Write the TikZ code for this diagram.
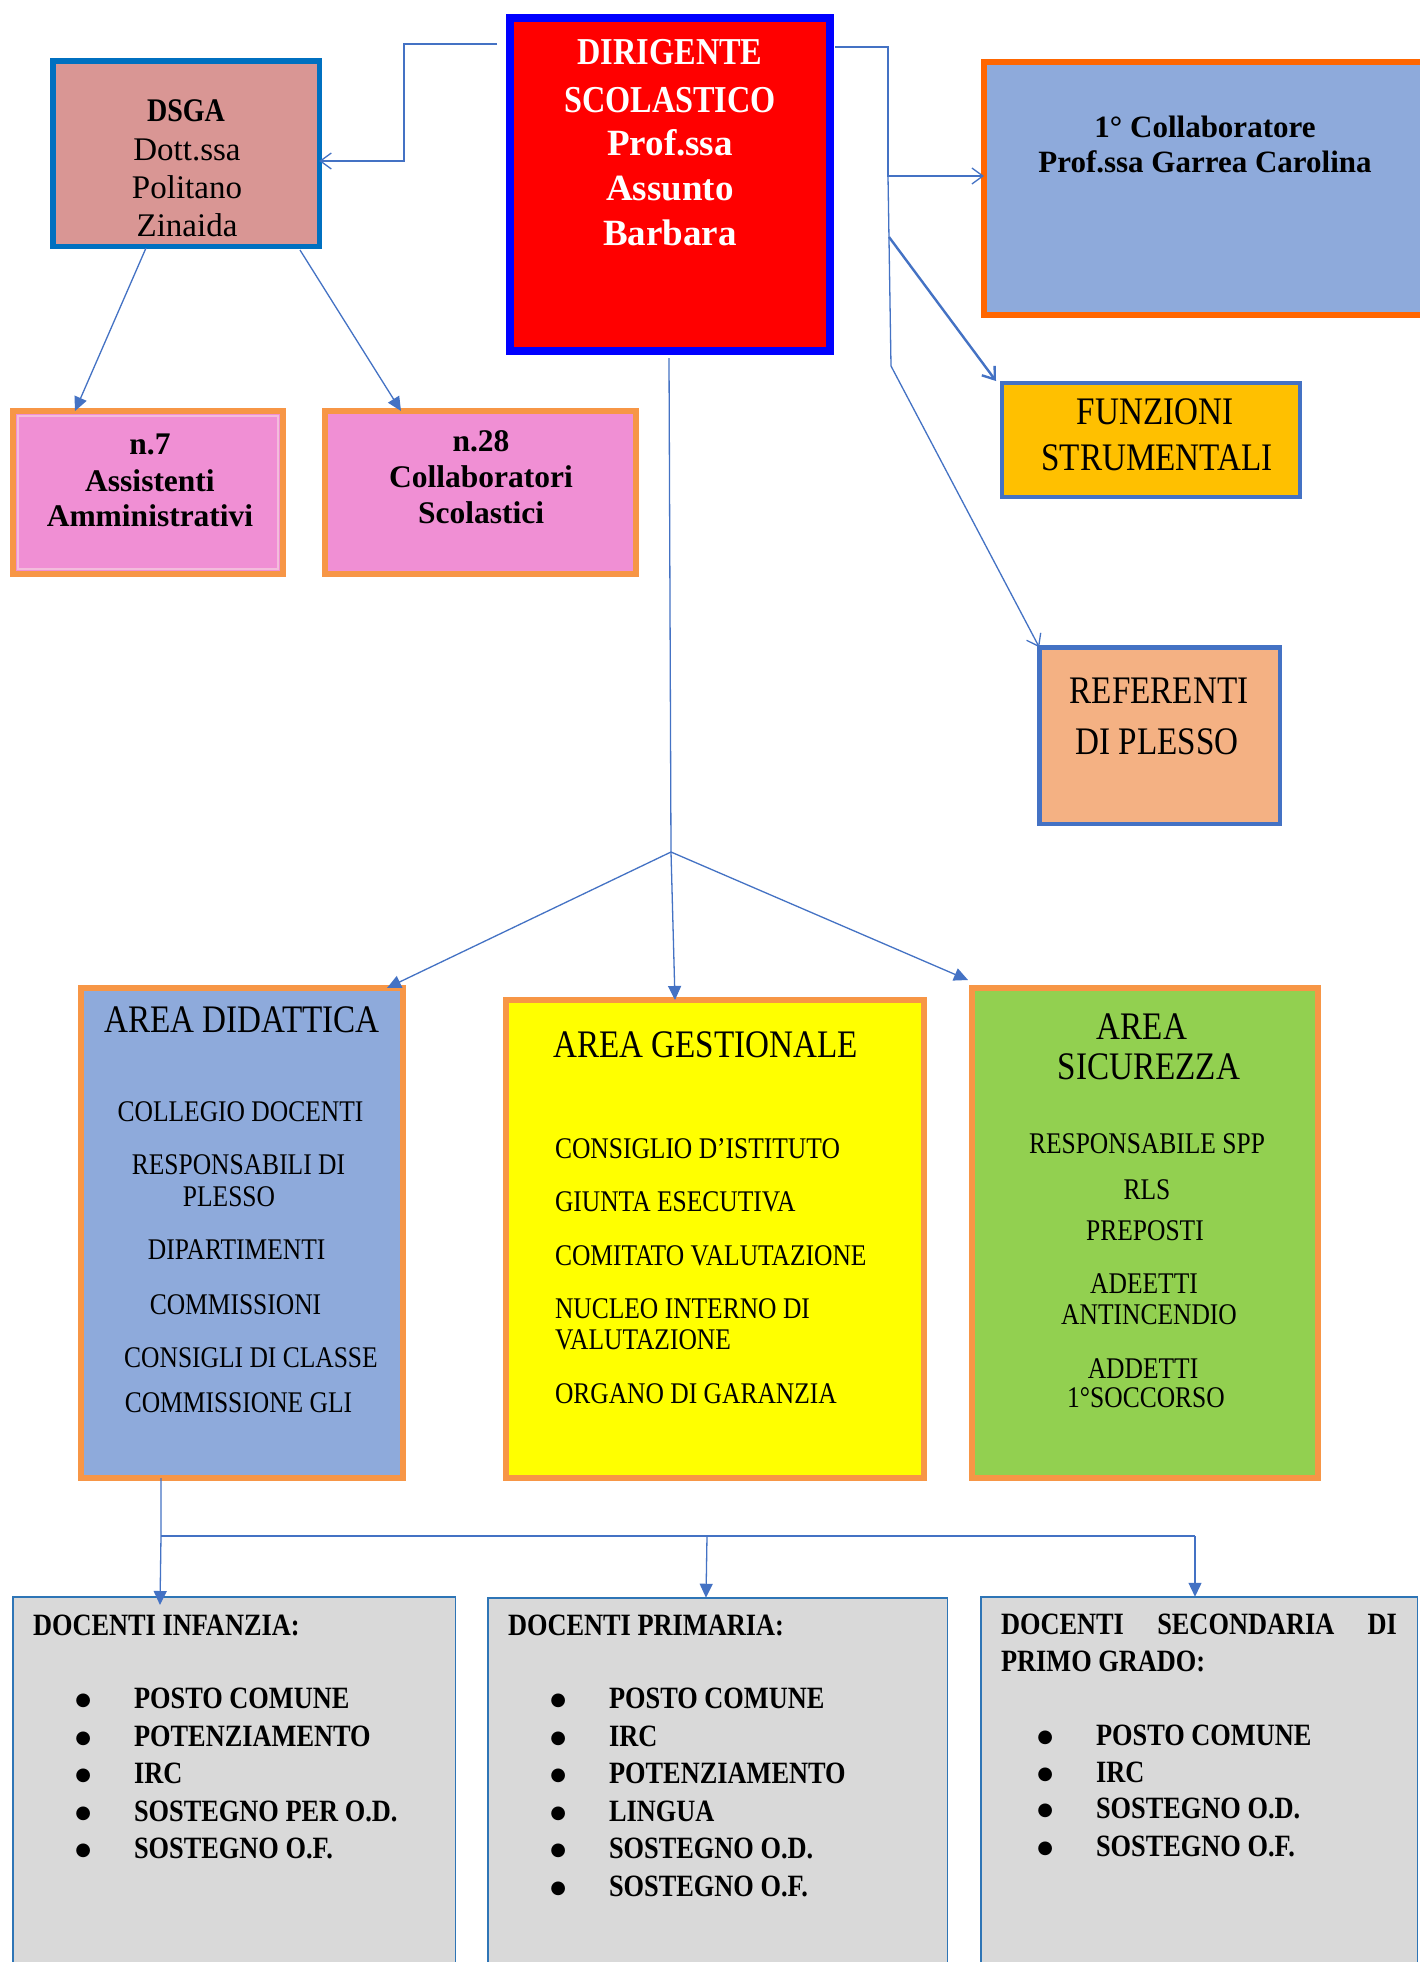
\documentclass[tikz,border=0pt]{standalone}
\usepackage{fontspec}
\setmainfont{Liberation Serif}
\newfontfamily\capsf{Liberation Serif}[FakeStretch=0.85]
\newfontfamily\bulf{DejaVu Sans}
\usetikzlibrary{arrows.meta}
\definecolor{cblue}{HTML}{4472C4}
\definecolor{dirblue}{HTML}{0000FF}
\definecolor{dsgab}{HTML}{0070C0}
\definecolor{dsgaf}{HTML}{D99694}
\definecolor{pinkf}{HTML}{F08FD4}
\definecolor{orb}{HTML}{F79646}
\definecolor{orx}{HTML}{FF6600}
\definecolor{lblue}{HTML}{8EAADB}
\definecolor{gold}{HTML}{FFC000}
\definecolor{peach}{HTML}{F4B183}
\definecolor{yel}{HTML}{FFFF00}
\definecolor{grn}{HTML}{92D050}
\definecolor{gry}{HTML}{D9D9D9}
\definecolor{dblue}{HTML}{2E75B6}
\definecolor{ltpink}{HTML}{F3BCDC}
\newcommand\mybul{\llap{\raisebox{2.5pt}{\bulf\fontsize{18}{20}\selectfont ●}\hspace{43pt}}}
\tikzset{
  box/.style={rectangle, draw, inner sep=0pt, outer sep=0pt},
  conn/.style={draw=cblue, line width=1.3pt},
  tri/.style={-{Triangle[length=14pt,width=13pt]}},
  barb/.style={-{Straight Barb[length=11pt,width=16pt]}},
  txt/.style={anchor=base, inner sep=0pt, outer sep=0pt},
  dirtx/.style={txt, text=white, font=\bfseries\fontsize{37}{44}\selectfont},
  dircap/.style={txt, text=white, font=\capsf\bfseries\fontsize{38}{44}\selectfont},
  dsgatx/.style={txt, font=\fontsize{33}{40}\selectfont},
  pinktx/.style={txt, font=\bfseries\fontsize{31.5}{38}\selectfont},
  captx/.style={txt, font=\capsf\fontsize{39}{46}\selectfont},
  itm/.style={txt, font=\capsf\fontsize{30}{36}\selectfont},
  itml/.style={itm, anchor=base west},
  doc/.style={txt, anchor=base west, font=\capsf\bfseries\fontsize{31}{37}\selectfont},
}
\begin{document}
\begin{tikzpicture}[x=1pt,y=-1pt]
\useasboundingbox (0,0) rectangle (1420,1962);
\clip (0,0) rectangle (1420,1962);
\fill[white] (0,0) rectangle (1420,1962);

% ---------- boxes ----------
\node[box, draw=dirblue, fill=red, line width=8pt, minimum width=320pt, minimum height=333pt] (dir) at (670,184.5) {};
\node[box, draw=dsgab, fill=dsgaf, line width=5.5pt, minimum width=266.5pt, minimum height=185.5pt] (dsga) at (186,153.5) {};
\node[box, draw=orb, fill=pinkf, line width=6pt, minimum width=270pt, minimum height=163pt] (assist) at (148,492.5) {};
\node[box, draw=ltpink, line width=2pt, minimum width=260pt, minimum height=153pt] (assistin) at (148,492.5) {};
\node[box, draw=orb, fill=pinkf, line width=6pt, minimum width=311pt, minimum height=163pt] (collab) at (480.5,492.5) {};
\node[box, draw=orx, fill=lblue, line width=6pt, minimum width=453pt, minimum height=253pt] (coll1) at (1210.5,188.5) {};
\node[box, draw=cblue, fill=gold, line width=4pt, minimum width=298pt, minimum height=114pt] (funz) at (1151,440) {};
\node[box, draw=cblue, fill=peach, line width=4.5pt, minimum width=240.5pt, minimum height=176.5pt] (ref) at (1159.5,735.5) {};
\node[box, draw=orb, fill=lblue, line width=6pt, minimum width=322pt, minimum height=490pt] (did) at (242,1233) {};
\node[box, draw=orb, fill=yel, line width=6pt, minimum width=418pt, minimum height=478pt] (gest) at (715,1239) {};
\node[box, draw=orb, fill=grn, line width=6pt, minimum width=346pt, minimum height=490pt] (sic) at (1145,1233) {};
\node[box, draw=dblue, fill=gry, line width=1.5pt, minimum width=442.5pt, minimum height=412.5pt] (inf) at (234,1803) {};
\node[box, draw=dblue, fill=gry, line width=1.5pt, minimum width=459.5pt, minimum height=411.5pt] (pri) at (717.5,1803.5) {};
\node[box, draw=dblue, fill=gry, line width=1.5pt, minimum width=436.5pt, minimum height=412.5pt] (sec) at (1199,1803) {};

% ---------- connectors ----------
\coordinate (dL) at (497,44);
\coordinate (dk) at (404,161);
\draw[conn, barb] (dL) -| (dk) -- (dk -| dsga.east);

\coordinate (dR) at (835,47);
\coordinate (ck) at (888,176);
\coordinate (vk1) at (889,237);
\coordinate (vk2) at (891,366);
\draw[conn, barb] (dR) -| (ck) -- (ck -| coll1.west);
\draw[conn] (ck) -- (vk2);
\coordinate (fT) at (996,381);
\draw[conn, line width=2.4pt, barb] (vk1) -- (fT);
\draw[conn, barb] (vk2) -- (ref.north west);

\coordinate (aA) at (146,248);
\coordinate (aB) at (300,250);
\draw[conn, tri] (aA) -- (75,0 |- assist.north);
\draw[conn, tri] (aB) -- (401,0 |- collab.north);

\coordinate (dS) at (669,358);
\coordinate (br) at (671,852);
\coordinate (sT) at (968,980);
\draw[conn] (dS) -- (br);
\draw[conn, tri] (br) -- (675,0 |- gest.north);
\draw[conn, tri] (br) -- (387,0 |- did.north);
\draw[conn, tri] (br) -- (sT);

\coordinate (dd) at (161,1536);
\coordinate (dE) at (1195,1536);
\coordinate (dP) at (707,1536);
\coordinate (iT) at (160,1605);
\draw[conn, tri] (dd |- did.south) -- (dd) -- (iT);
\draw[conn] (dd) -- (dE);
\draw[conn, tri] (dE) -- (dE |- sec.north);
\draw[conn, tri] (dP) -- (706,0 |- pri.north);

% ---------- texts ----------
\node[dircap] (t1) at (670,64) {DIRIGENTE};
\node[dircap] (t2) at (670,112) {SCOLASTICO};
\node[dirtx] (t3) at (670,155) {Prof.ssa};
\node[dirtx] (t4) at (670,200) {Assunto};
\node[dirtx] (t5) at (670,245) {Barbara};

\node[txt, font=\capsf\bfseries\fontsize{33}{40}\selectfont] (s1) at (186,121) {DSGA};
\node[dsgatx] (s2) at (187,160) {Dott.ssa};
\node[dsgatx] (s3) at (187,198) {Politano};
\node[dsgatx] (s4) at (187,236) {Zinaida};

\node[pinktx] (a1) at (150,454.5) {n.7};
\node[pinktx] (a2) at (150,491) {Assistenti};
\node[pinktx] (a3) at (150,526) {Amministrativi};
\node[pinktx] (c1) at (481,451) {n.28};
\node[pinktx] (c2) at (481,487) {Collaboratori};
\node[pinktx] (c3) at (481,523) {Scolastici};

\node[txt, font=\bfseries\fontsize{31}{37}\selectfont] (k1) at (1205,137) {1° Collaboratore};
\node[txt, font=\bfseries\fontsize{31}{37}\selectfont] (k2) at (1205,172) {Prof.ssa Garrea Carolina};

\node[captx] (f1) at (1155,424) {FUNZIONI};
\node[captx] (f2) at (1157,470) {STRUMENTALI};
\node[captx] (r1) at (1159,703) {REFERENTI};
\node[captx] (r2) at (1157,754) {DI PLESSO};

\node[captx] (dt) at (242,1032) {AREA DIDATTICA};
\foreach \tx/\cx/\by [count=\i] in {COLLEGIO DOCENTI/240.5/1121, RESPONSABILI DI/238.5/1174, PLESSO/229/1206, DIPARTIMENTI/236.6/1259, COMMISSIONI/235.5/1314, CONSIGLI DI CLASSE/251/1367, COMMISSIONE GLI/238.5/1412}
  \node[itm] (di\i) at (\cx,\by) {\tx};

\node[captx] (gt) at (705.5,1057) {AREA GESTIONALE};
\foreach \tx/\by [count=\i] in {CONSIGLIO D’ISTITUTO/1158, GIUNTA ESECUTIVA/1211, COMITATO VALUTAZIONE/1265, NUCLEO INTERNO DI/1318, VALUTAZIONE/1349, ORGANO DI GARANZIA/1403}
  \node[itml] (ge\i) at (555,\by) {\tx};

\node[captx] (st1) at (1142,1039) {AREA};
\node[captx] (st2) at (1149,1079) {SICUREZZA};
\foreach \tx/\cx/\by [count=\i] in {RESPONSABILE SPP/1147/1153, RLS/1147/1199, PREPOSTI/1145/1240, ADEETTI/1144/1293, ANTINCENDIO/1149/1324, ADDETTI/1143/1378, 1°SOCCORSO/1146/1407}
  \node[itm] (si\i) at (\cx,\by) {\tx};

\node[doc] (it) at (33,1635) {DOCENTI INFANZIA:};
\foreach \tx/\by [count=\i] in {POSTO COMUNE/1708, POTENZIAMENTO/1746, IRC/1783, SOSTEGNO PER O.D./1821, SOSTEGNO O.F./1858}
  \node[doc] (in\i) at (134,\by) {\mybul\tx};

\node[doc] (pt) at (508,1635) {DOCENTI PRIMARIA:};
\foreach \tx/\by [count=\i] in {POSTO COMUNE/1708, IRC/1746, POTENZIAMENTO/1783, LINGUA/1821, SOSTEGNO O.D./1858, SOSTEGNO O.F./1896}
  \node[doc] (pr\i) at (609,\by) {\mybul\tx};

\node[doc] (sc1) at (1001,1634) {\hbox to 396pt{DOCENTI\hfill SECONDARIA\hfill DI}};
\node[doc] (sc2) at (1001,1671) {PRIMO GRADO:};
\foreach \tx/\by [count=\i] in {POSTO COMUNE/1745, IRC/1782, SOSTEGNO O.D./1818, SOSTEGNO O.F./1856}
  \node[doc] (se\i) at (1096,\by) {\mybul\tx};
\end{tikzpicture}
\end{document}
